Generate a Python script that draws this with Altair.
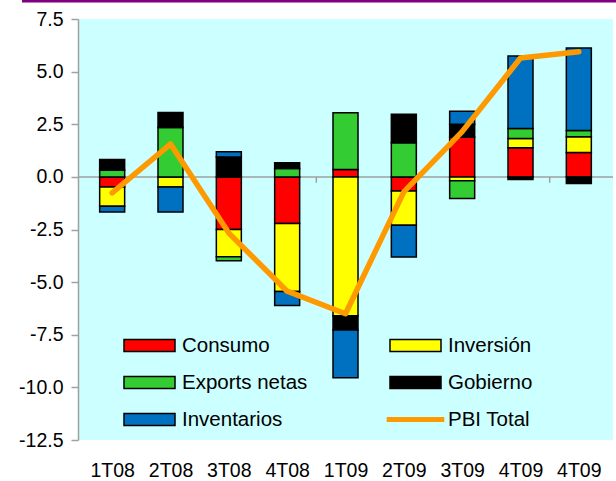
import json
import altair as alt
import pandas as pd

# Contribuciones al crecimiento del PBI por trimestre (puntos porcentuales)
periodos = ["1T08", "2T08", "3T08", "4T08", "1T09", "2T09", "3T09", "4T09", "4T09"]
consumo = [-0.48, 0.00, -2.50, -2.22, 0.35, -0.67, 1.90, 1.38, 1.16]
inversion = [-0.92, -0.48, -1.29, -3.22, -6.60, -1.63, -0.19, 0.44, 0.75]
exports_netas = [0.32, 2.34, -0.19, 0.40, 2.70, 1.62, -0.84, 0.48, 0.29]
gobierno = [0.51, 0.72, 0.95, 0.27, -0.67, 1.35, 0.60, -0.13, -0.32]
inventarios = [-0.27, -1.19, 0.24, -0.67, -2.27, -1.51, 0.62, 3.44, 3.92]
pbi_total = [-0.76, 1.56, -2.67, -5.43, -6.50, -0.71, 2.15, 5.65, 5.94]

series = ["Consumo", "Inversión", "Exports netas", "Gobierno", "Inventarios"]
colores = ["#FF0000", "#FFFF00", "#33CC33", "#000000", "#0070C0"]
color_pbi = "#FF9900"
valores_y = [7.5, 5.0, 2.5, 0.0, -2.5, -5.0, -7.5, -10.0, -12.5]
marcas_cero = [3.5, 7.5]

FUENTE = "Liberation Sans"
GRIS = "#A0A0A0"

# Tabla larga para las barras apiladas
filas = []
for i, p in enumerate(periodos):
    for orden, (serie, vals) in enumerate(
        zip(series, [consumo, inversion, exports_netas, gobierno, inventarios])
    ):
        if vals[i] != 0:
            filas.append({"idx": i, "periodo": p, "serie": serie, "valor": vals[i], "orden": orden})
df_barras = pd.DataFrame(filas)
df_linea = pd.DataFrame({"idx": list(range(len(periodos))), "pbi": pbi_total})
df_marcas = pd.DataFrame({"x": marcas_cero, "y0": [0.0] * len(marcas_cero), "y1": [-0.28] * len(marcas_cero)})

esc_x = alt.Scale(domain=[-0.5, len(periodos) - 0.5], nice=False, zero=False)
esc_y = alt.Scale(domain=[-12.5, 7.5], nice=False, zero=False)

expr_periodos = json.dumps(periodos).replace('"', "'") + "[datum.value]"
eje_x = alt.Axis(
    orient="bottom", values=list(range(len(periodos))), labelExpr=expr_periodos,
    title=None, grid=False, ticks=False, domain=False, labelFlush=False,
    labelOverlap=False, labelBound=False,
    labelFont=FUENTE, labelFontSize=19.5, labelColor="black", labelPadding=21,
)
eje_y = alt.Axis(
    values=valores_y, title=None, grid=False,
    labelExpr="replace(format(datum.value, '.1f'), '\u2212', '-')",
    labelFont=FUENTE, labelFontSize=19.5, labelColor="black", labelPadding=8,
    tickSize=7, tickColor=GRIS, tickWidth=1.5, domainColor=GRIS, domainWidth=1.5,
)

# Símbolos de leyenda: rectángulo ancho para las barras, franja fina para la línea
rect_path = "M-1,-0.235L1,-0.235L1,0.235L-1,0.235Z"
linea_path = "M-1.1,-0.07L1.1,-0.07L1.1,0.07L-1.1,0.07Z"
es_pbi = "datum.value === 'PBI Total'"
leyenda = alt.Legend(
    orient="none", legendX=45, legendY=300, columns=2, direction="horizontal", title=None,
    symbolType=alt.ExprRef(expr=f"{es_pbi} ? '{linea_path}' : '{rect_path}'"),
    symbolSize=2601,
    symbolStrokeColor=alt.ExprRef(expr=f"{es_pbi} ? '{color_pbi}' : 'black'"),
    symbolStrokeWidth=1.5,
    labelFont=FUENTE, labelFontSize=20.5, labelColor="black", labelOffset=6,
    columnPadding=76, rowPadding=0, padding=0,
)

linea_cero = alt.Chart(pd.DataFrame({"cero": [0.0]})).mark_rule(
    color=GRIS, strokeWidth=1.5
).encode(y=alt.Y("cero:Q", scale=esc_y, axis=eje_y))

marcas = alt.Chart(df_marcas).mark_rule(color=GRIS, strokeWidth=1.5).encode(
    x=alt.X("x:Q", scale=esc_x, axis=eje_x),
    y=alt.Y("y0:Q", scale=esc_y, axis=eje_y),
    y2="y1:Q",
)

barras = alt.Chart(df_barras).mark_bar(size=25, stroke="black", strokeWidth=1.5).encode(
    x=alt.X("idx:Q", scale=esc_x, axis=eje_x),
    y=alt.Y("valor:Q", stack="zero", scale=esc_y, axis=eje_y),
    color=alt.Color(
        "serie:N",
        scale=alt.Scale(domain=series + ["PBI Total"], range=colores + [color_pbi]),
        legend=leyenda,
    ),
    order=alt.Order("orden:Q", sort="ascending"),
)

linea = alt.Chart(df_linea).mark_line(
    color=color_pbi, strokeWidth=5.5, strokeCap="round", strokeJoin="round"
).encode(
    x=alt.X("idx:Q", scale=esc_x, axis=eje_x),
    y=alt.Y("pbi:Q", scale=esc_y, axis=eje_y),
)

franja = alt.Chart(pd.DataFrame({"a": [0]})).mark_rule(color="#800080", strokeWidth=3).encode(
    x=alt.value(-56), x2=alt.value(540), y=alt.value(-18)
)

chart = (
    alt.layer(linea_cero, marcas, barras, linea, franja)
    .properties(
        width=535, height=421,
        autosize=alt.AutoSizeParams(type="none"),
        padding={"left": 78, "top": 19, "right": 3, "bottom": 41},
        background="white",
    )
    .configure_view(fill="#CCFFFF", stroke=None)
)

chart.save("out.html", embed_options={"renderer": "svg", "actions": False})
